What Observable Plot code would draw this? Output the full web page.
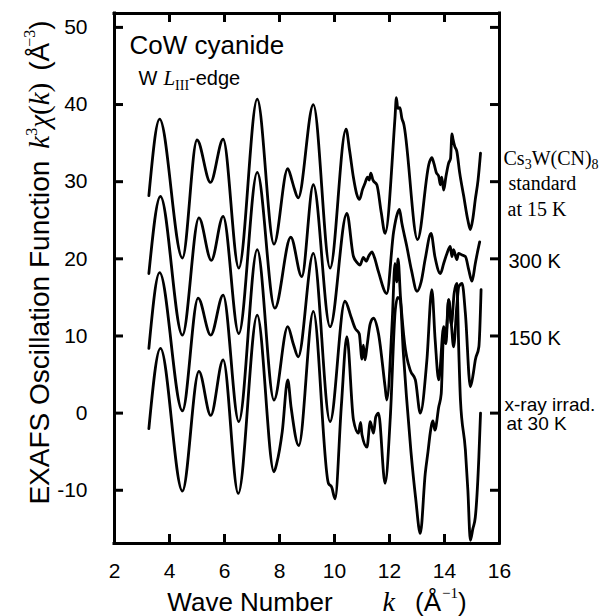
<!DOCTYPE html>
<html><head><meta charset="utf-8">
<script src="https://cdn.jsdelivr.net/npm/d3@7"></script>
<script src="https://cdn.jsdelivr.net/npm/@observablehq/plot@0.6"></script>
<style>
html,body{margin:0;padding:0;background:#fff;}
#chart{width:606px;height:616px;overflow:hidden;}
</style></head><body><div id="chart"></div>
<script>
// ---- data ----
const seriesNames = ["Cs3W(CN)8 standard at 15 K", "300 K", "150 K", "x-ray irrad. at 30 K"];

const kStd = [3.25,3.64,4.47,5.0,5.49,5.95,6.52,7.19,7.8,8.3,8.45,8.53,8.68,9.23,9.84,10.42,10.55,10.69,10.8,10.91,11.02,11.11,11.2,11.26,11.32,11.4,11.54,11.7,11.84,12.2,12.25,12.3,12.38,12.45,12.51,13.02,13.45,13.54,13.62,13.7,13.79,13.85,13.9,13.97,14.05,14.15,14.22,14.27,14.31,14.37,14.45,14.55,14.7,14.85,14.94,15.03,15.12,15.22,15.31];
const vStd = [28.2,38.1,20.1,35.4,29.9,35.5,18.8,40.7,21.9,31.7,30.2,29.2,27.9,40.0,18.8,36.8,34.0,30.5,28.5,27.7,29.0,29.8,30.6,30.2,31.1,30.2,29.6,26.0,23.3,38.3,40.9,39.5,39.6,38.2,37.6,22.5,32.5,33.1,32.3,31.2,30.7,29.6,30.6,28.9,30.6,32.4,33.0,36.2,35.5,34.6,33.9,31.2,28.1,25.0,23.8,25.2,27.7,30.2,33.7];

const k300 = [3.25,3.67,4.47,5.07,5.52,5.95,6.52,7.19,7.83,8.41,8.81,9.23,9.84,10.45,10.69,10.8,10.93,11.05,11.15,11.25,11.36,11.45,11.6,11.9,12.15,12.29,12.36,12.45,12.63,12.8,13.0,13.15,13.3,13.51,13.65,13.85,13.97,14.09,14.21,14.27,14.33,14.45,14.51,14.64,14.76,14.88,15.0,15.12,15.19,15.28];
const v300 = [18.1,28.1,10.1,25.3,19.8,25.5,10.3,31.2,13.6,22.8,17.7,29.6,11.2,25.9,20.3,19.6,19.2,20.2,19.7,20.4,20.9,20.2,18.3,15.5,23.5,25.9,26.4,24.6,21.6,18.5,15.8,17.0,20.0,23.3,20.3,18.1,19.4,20.7,21.6,20.3,21.2,19.9,20.7,20.5,20.3,18.6,17.1,19.4,20.7,22.2];

const k150 = [3.25,3.64,4.47,5.04,5.5,5.95,6.52,7.19,7.8,8.3,8.5,8.68,9.23,9.84,10.38,10.6,10.75,10.9,11.0,11.05,11.11,11.18,11.3,11.42,11.6,11.84,11.9,12.1,12.2,12.26,12.31,12.4,12.55,12.76,12.94,13.12,13.36,13.54,13.66,13.79,13.97,14.05,14.15,14.25,14.33,14.45,14.52,14.64,14.76,14.94,15.05,15.12,15.25,15.33];
const v150 = [8.4,18.2,0.3,14.9,10.1,15.3,-1.1,21.2,1.7,11.2,9.0,7.3,20.7,-1.1,14.5,12.5,11.0,10.3,7.0,8.8,6.9,8.6,11.6,12.3,10.3,3.4,1.7,12.0,19.4,17.0,20.0,15.0,9.0,5.5,4.3,0.0,6.9,16.0,9.5,4.3,11.2,10.0,14.7,11.5,8.6,14.0,16.4,16.8,12.9,3.4,5.2,6.9,8.6,16.0];

const kIrr = [3.25,3.67,4.47,5.07,5.5,5.95,6.5,7.19,7.8,7.9,8.1,8.3,8.42,8.7,9.23,9.78,9.9,10.02,10.25,10.45,10.69,10.87,10.95,11.0,11.18,11.3,11.42,11.5,11.6,11.84,12.03,12.21,12.3,12.39,12.5,12.62,12.78,12.95,13.12,13.3,13.4,13.48,13.58,13.65,13.79,13.88,13.97,14.05,14.15,14.25,14.35,14.45,14.52,14.58,14.76,14.85,14.94,15.03,15.12,15.25,15.31];
const vIrr = [-2.0,8.4,-10.1,5.4,-0.3,6.9,-10.4,12.7,-7.6,-6.5,-2.4,4.3,0.8,-4.2,13.2,-9.1,-9.6,-11.1,1.0,9.9,-0.9,-2.6,-1.2,-2.8,-4.4,-1.1,-2.6,-0.5,0.0,-9.1,-0.5,13.4,15.0,14.7,8.0,2.0,-5.0,-11.0,-15.6,-7.8,-5.0,-2.6,-1.0,-2.2,0.8,2.5,10.3,9.0,14.7,11.5,15.5,16.8,8.0,1.7,-4.8,-10.0,-16.5,-15.0,-13.5,-5.7,0.0];

const xTickLabels = [2,4,6,8,10,12,14,16];
const xInnerTicks = [4,6,8,10,12,14];
const yTickLabels = [-10,0,10,20,30,40,50];

// ---- build table ----
const kArrays = [kStd, k300, k150, kIrr];
const vArrays = [vStd, v300, v150, vIrr];
const rows = [];
seriesNames.forEach((name, i) => {
  kArrays[i].forEach((k, j) => rows.push({series: name, k, v: vArrays[i][j]}));
});

const W = 606, H = 616, mL = 114, mR = 107, mT = 13, mB = 73;
const frameW = W - mL - mR, frameH = H - mT - mB;
const xDom = [2, 16], yDom = [-16.9, 51.8];
const tickLen = 9, sw = 3;
const xPerPx = (xDom[1] - xDom[0]) / frameW;
const yPerPx = (yDom[1] - yDom[0]) / frameH;
const sans = "'Liberation Sans', Arial, Helvetica, sans-serif";
const serif = "'Liberation Serif', 'Times New Roman', serif";
const lab = {frameAnchor: "right", textAnchor: "start", lineAnchor: "middle"};

const chart = Plot.plot({
  width: W, height: H,
  marginLeft: mL, marginRight: mR, marginTop: mT, marginBottom: mB,
  style: {fontFamily: sans, fontSize: "21px", color: "black", background: "white"},
  x: {domain: xDom},
  y: {domain: yDom},
  marks: [
    Plot.line(rows, {x: "k", y: "v", z: "series", stroke: "black", strokeWidth: 2.8, curve: "monotone-x", strokeLinejoin: "round", strokeLinecap: "round"}),
    // frame
    Plot.ruleX(xDom, {x: d => d, y1: yDom[0], y2: yDom[1], stroke: "black", strokeWidth: sw, strokeLinecap: "square"}),
    Plot.ruleY(yDom, {y: d => d, x1: xDom[0], x2: xDom[1], stroke: "black", strokeWidth: sw, strokeLinecap: "square"}),
    // inward ticks on all four sides
    Plot.ruleX(xInnerTicks, {x: d => d, y1: yDom[0], y2: yDom[0] + tickLen * yPerPx, stroke: "black", strokeWidth: sw}),
    Plot.ruleX(xInnerTicks, {x: d => d, y1: yDom[1] - tickLen * yPerPx, y2: yDom[1], stroke: "black", strokeWidth: sw}),
    Plot.ruleY(yTickLabels, {y: d => d, x1: xDom[0], x2: xDom[0] + tickLen * xPerPx, stroke: "black", strokeWidth: sw}),
    Plot.ruleY(yTickLabels, {y: d => d, x1: xDom[1] - tickLen * xPerPx, x2: xDom[1], stroke: "black", strokeWidth: sw}),
    Plot.axisX({ticks: xTickLabels, tickSize: 0, tickPadding: 20, label: null, fontSize: 21, tickFormat: d => String(d)}),
    Plot.axisY({ticks: yTickLabels, tickSize: 0, tickPadding: 27, label: null, fontSize: 21, tickFormat: d => String(d)}),
    // axis titles
    Plot.text(["XLABEL"], {frameAnchor: "bottom", textAnchor: "middle", lineAnchor: "middle", dx: 10, dy: 59, fontSize: 26}),
    Plot.text(["YLABEL"], {frameAnchor: "left", textAnchor: "middle", lineAnchor: "middle", rotate: -90, dx: -74, dy: -16, fontSize: 28}),
    // in-plot annotations
    Plot.text(["CoW cyanide"], {frameAnchor: "top-left", textAnchor: "start", lineAnchor: "top", dx: 15, dy: 22, fontSize: 26}),
    Plot.text(["WEDGE"], {frameAnchor: "top-left", textAnchor: "start", lineAnchor: "top", dx: 24, dy: 57, fontSize: 20}),
    // series labels
    Plot.text(["CSLABEL"], {...lab, y: [33.0], dx: 4, fontSize: 20, fontFamily: serif}),
    Plot.text(["standard"], {...lab, y: [29.7], dx: 9, fontSize: 20, fontFamily: serif}),
    Plot.text(["at 15 K"], {...lab, y: [26.4], dx: 8, fontSize: 20, fontFamily: serif}),
    Plot.text(["300 K"], {...lab, y: [19.7], dx: 9, fontSize: 20}),
    Plot.text(["150 K"], {...lab, y: [9.7], dx: 9, fontSize: 20}),
    Plot.text(["x-ray irrad."], {...lab, y: [1.1], dx: 5, fontSize: 19}),
    Plot.text(["at 30 K"], {...lab, y: [-1.4], dx: 7, fontSize: 19})
  ]
});

// ---- rich text (italics, sub/superscripts) ----
function rebuild(svg, match, parts) {
  d3.select(svg).selectAll("text").filter(function () { return this.textContent === match; }).each(function () {
    const t = d3.select(this);
    t.text(null);
    for (const p of parts) {
      const s = t.append("tspan").text(p.t);
      for (const [a, v] of Object.entries(p)) if (a !== "t") s.attr(a, v);
    }
  });
}
rebuild(chart, "XLABEL", [
  {t: "Wave Number"},
  {t: "k", dx: 50, "font-family": serif, "font-style": "italic", "font-size": 28},
  {t: "(Å", dx: 20},
  {t: "−1", dx: 1, dy: -13, "font-family": serif, "font-size": 15},
  {t: ")", dy: 13}
]);
rebuild(chart, "YLABEL", [
  {t: "EXAFS Oscillation Function"},
  {t: "k", dx: 12, "font-family": serif, "font-style": "italic", "font-size": 29},
  {t: "3", dy: -12, "font-family": serif, "font-size": 16},
  {t: "χ", dy: 12, "font-family": serif, "font-style": "italic", "font-size": 29},
  {t: "(", "font-family": serif, "font-size": 29},
  {t: "k", "font-family": serif, "font-style": "italic", "font-size": 29},
  {t: ")", "font-family": serif, "font-size": 29},
  {t: "(Å", dx: 12},
  {t: "−3", dx: -4, dy: -14, "font-family": serif, "font-size": 16},
  {t: ")", dy: 14}
]);
rebuild(chart, "WEDGE", [
  {t: "W"},
  {t: "L", dx: 6, "font-family": serif, "font-style": "italic", "font-size": 21},
  {t: "III", dy: 5, "font-family": serif, "font-size": 14},
  {t: "-edge", dy: -5}
]);
rebuild(chart, "CSLABEL", [
  {t: "Cs"},
  {t: "3", dy: 4, "font-size": 14},
  {t: "W(CN)", dy: -4},
  {t: "8", dy: 4, "font-size": 14}
]);

document.getElementById("chart").appendChild(chart);
</script>
</body></html>
